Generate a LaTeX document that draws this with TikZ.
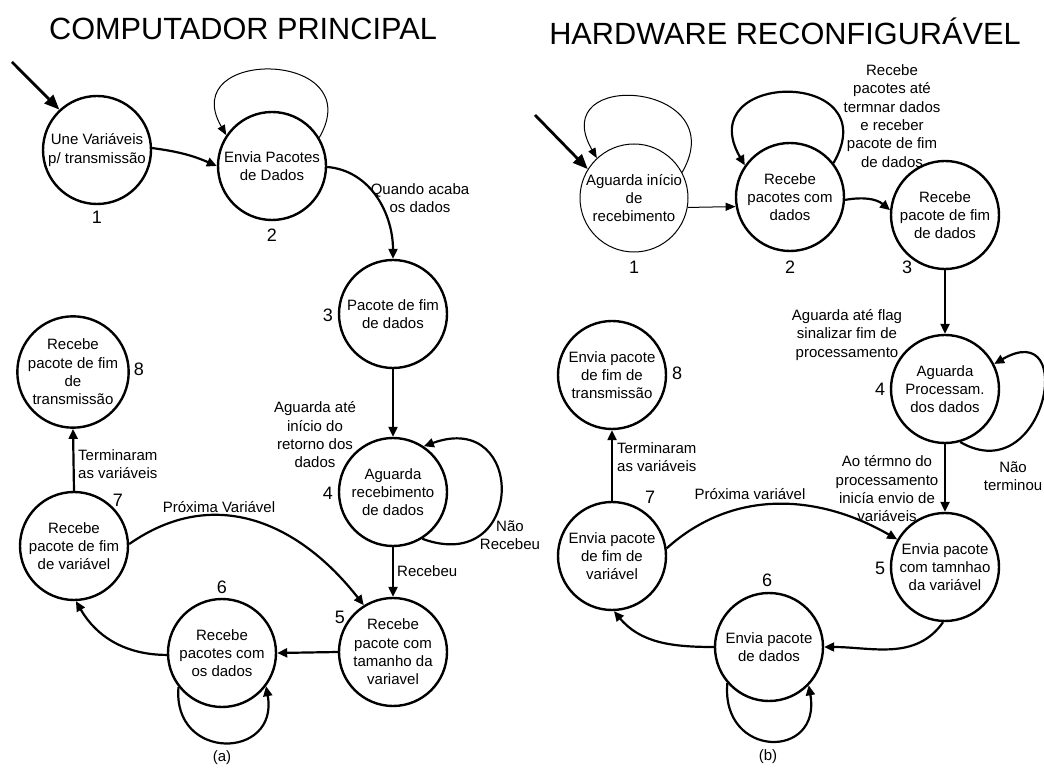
\documentclass[tikz,border=0pt]{standalone}
\usepackage{fontspec}
\setmainfont{Liberation Sans}
\usetikzlibrary{arrows.meta}
\newcommand\fsbody{\fontsize{15}{18.3}\selectfont}
\newcommand\fsnum{\fontsize{18}{20}\selectfont}
\newcommand\fstitle{\fontsize{30.7}{36}\selectfont}
\tikzset{
  state/.style={circle, draw, line width=2.4pt, minimum size=108pt, inner sep=0pt, align=center, font=\fsbody},
  thinstate/.style={state, line width=1pt},
  lbl/.style={align=center, font=\fsbody, inner sep=0pt},
  num/.style={font=\fsnum, inner sep=0pt},
  ttl/.style={font=\fstitle, inner sep=0pt},
  edge/.style={line width=2.2pt, -{Triangle[length=10pt,width=9pt]}},
  thinedge/.style={line width=1pt, -{Triangle[length=10pt,width=8pt]}},
  initedge/.style={line width=2.8pt, -{Triangle[length=15pt,width=12pt]}},
}
\begin{document}
\begin{tikzpicture}[x=1pt,y=1pt]
\useasboundingbox (0,0) rectangle (1044,769);
% ---------------- left ----------------
\node[ttl] (t1) at (243,740) {COMPUTADOR PRINCIPAL};
\node[state] (L1) at (97,619) {Une Variáveis\\p/ transmissão};
\node[state] (L2) at (272,603) {Envia Pacotes\\de Dados};
\node[state] (L3) at (393,455) {Pacote de fim\\de dados};
\node[state] (L4) at (393,277) {Aguarda\\recebimento\\de dados};
\node[state] (L5) at (393,117) {Recebe\\pacote com\\tamanho da\\variavel};
\node[state] (L6) at (222,116) {Recebe\\pacotes com\\os dados};
\node[state] (L7) at (74,223) {Recebe\\pacote de fim\\de variável};
\node[state] (L8) at (73,397) {Recebe\\pacote de fim\\de\\transmissão};
\node[num] (n1) at (97,552) {1};
\node[num] (n2) at (272,534) {2};
\node[num] (n3) at (328,454) {3};
\node[num] (n4) at (328,276) {4};
\node[num] (n5) at (340,152) {5};
\node[num] (n6) at (222,182) {6};
\node[num] (n7) at (118,269) {7};
\node[num] (n8) at (139,400) {8};
\node[lbl] (ca) at (222,11) {(a)};
\node[lbl] (q1) at (420,571) {Quando acaba\\os dados};
\node[lbl] (ag1) at (315,334) {Aguarda até\\início do\\retorno dos\\dados};
\node[lbl] (nr1) at (510,234) {Não\\Recebeu};
\node[lbl, anchor=west] (rc1) at (397,198) {Recebeu};
\node[lbl, anchor=west, align=left] (tv1) at (78,305) {Terminaram\\as variáveis};
\node[lbl] (pv1) at (219,262) {Próxima Variável};
\coordinate (s1) at (12,707);
\draw[initedge] (s1) -- (L1.133);
\draw[edge] (L1.2) to[bend left=8] (L2.180);
\draw[thinedge] (L2.31) to[out=60,in=120,distance=102pt] (L2.146);
\draw[edge] (L2.-1) to[out=-5,in=90] (L3.90);
\draw[edge] (L3.south) -- (L4.north);
\draw[edge] (L4.-58) to[out=-20,in=20,distance=110pt] (L4.56);
\draw[edge] (L4.south) -- (L5.north);
\draw[edge] (L5.west) -- (L6.east);
\draw[edge] (L6.218) to[out=-95,in=-80,distance=75pt] (L6.-37);
\draw[edge] (L6.182) to[out=180,in=-60] (L7.-88);
\draw[edge] (L7.north) -- (L8.south);
\draw[edge] (L7.2) to[out=35,in=128,looseness=1.1] (L5.122);
% ---------------- right ----------------
\node[ttl] (t2) at (785,738) {HARDWARE RECONFIGURÁVEL};
\node[thinstate] (R1) at (634,571) {Aguarda início\\de\\recebimento};
\node[state] (R2) at (790,572) {Recebe\\pacotes com\\dados};
\node[state] (R3) at (945,554) {Recebe\\pacote de fim\\de dados};
\node[state] (R4) at (945,380) {Aguarda\\Processam.\\dos dados};
\node[state] (R5) at (945,202) {Envia pacote\\com tamnhao\\da variável};
\node[state] (R6) at (769,122) {Envia pacote\\de dados};
\node[state] (R7) at (612,213) {Envia pacote\\de fim de\\variável};
\node[state] (R8) at (612,394) {Envia pacote\\de fim de\\transmissão};
\node[num] (m1) at (634,502) {1};
\node[num] (m2) at (790,502) {2};
\node[num] (m3) at (907,502) {3};
\node[num] (m4) at (880,380) {4};
\node[num] (m5) at (880,201) {5};
\node[num] (m6) at (767,189) {6};
\node[num] (m7) at (650,272) {7};
\node[num] (m8) at (677,396) {8};
\node[lbl] (cb) at (768,12) {(b)};
\node[lbl] (rp) at (892,653) {Recebe\\pacotes até\\termnar dados\\e receber\\pacote de fim\\de dados};
\node[lbl] (af) at (847,434) {Aguarda até flag\\sinalizar fim de\\processamento};
\node[lbl] (nt) at (1013,293) {Não\\terminou};
\node[lbl] (at) at (887,280) {Ao térmno do\\processamento\\inicía envio de\\variáveis};
\node[lbl, anchor=west, align=left] (tv2) at (617,312) {Terminaram\\as variáveis};
\node[lbl] (pv2) at (750,275) {Próxima variável};
\coordinate (s2) at (535,654);
\draw[initedge] (s2) -- (R1.148);
\draw[thinedge] (R1.28) to[out=60,in=120,distance=105pt] (R1.133);
\draw[thinedge] (R1.-10) -- (R2.190);
\draw[edge] (R2.38) to[out=60,in=120,distance=110pt] (R2.145);
\draw[edge] (R2.-3) to[out=10,in=140] (R3.175);
\draw[edge] (R3.south) -- (R4.north);
\draw[edge] (R4.-74) to[out=-30,in=30,distance=98pt] (R4.27);
\draw[edge] (R4.south) -- (R5.north);
\draw[edge] (R5.-92) to[out=-125,in=0] (R6.0);
\draw[edge] (R6.221) to[out=-95,in=-80,distance=76pt] (R6.-44);
\draw[edge] (R6.180) to[out=180,in=-50] (R7.-88);
\draw[edge] (R7.north) -- (R8.south);
\draw[edge] (R7.8) to[out=42,in=150] (R5.150);
\end{tikzpicture}
\end{document}
